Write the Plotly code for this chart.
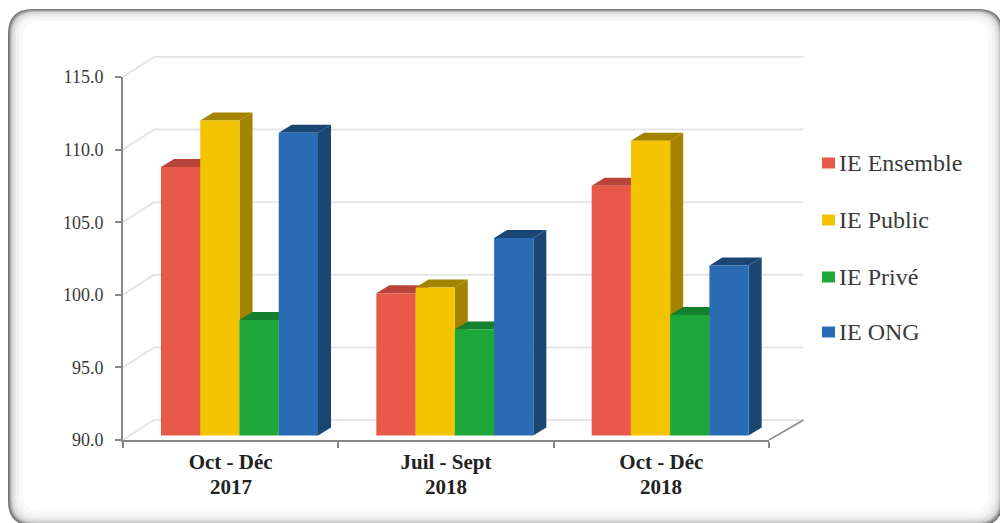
import plotly.graph_objects as go

# ---- data ----
periods = ["Oct - Déc", "Juil - Sept", "Oct - Déc"]
years = ["2017", "2018", "2018"]
series_names = ["IE Ensemble", "IE Public", "IE Privé", "IE ONG"]
ie_ensemble = [108.5, 99.8, 107.2]
ie_public = [111.7, 100.2, 110.3]
ie_prive = [97.95, 97.3, 98.3]
ie_ong = [110.85, 103.6, 101.7]
y_ticks = [90, 95, 100, 105, 110, 115]

# ---- styles ----
front_colors = ["#E8594A", "#F5C400", "#1FA83A", "#2A6CB4"]
dark_colors = ["#B8433A", "#A38300", "#138030", "#1A4674"]
series = [ie_ensemble, ie_public, ie_prive, ie_ong]

W, H = 1000, 523
AX_L, AX_R, AX_T, AX_B = 123, 769, 77, 440
PX_X = (AX_R - AX_L) / 3
PX_Y = (AX_B - AX_T) / 25
# the drawing subplot shares the same scale but leaves room for the back wall
DRAW_R, DRAW_T = 806, 50


def dx(px):
    return px / PX_X


def dy(px):
    return px / PX_Y


WALL_DX, WALL_DY = dx(31), dy(20)
WALL_END = 3 + dx(34.5)
BAR_PLANE_DX, BAR_PLANE_DY = dx(8.5), dy(4.5)
BAR_DEPTH_DX, BAR_DEPTH_DY = dx(13), dy(8)
BAR_W = dx(39.25)
CLUSTER_START = dx(29.5)

fig = go.Figure()
# keeps the visible axes alive
fig.add_trace(go.Scatter(x=[], y=[], xaxis="x", yaxis="y", showlegend=False, hoverinfo="skip"))


def poly(xs, ys, color):
    fig.add_trace(go.Scatter(x=xs, y=ys, xaxis="x2", yaxis="y2", mode="lines", fill="toself",
                             fillcolor=color, line=dict(width=0, color=color), hoverinfo="skip",
                             showlegend=False))


def line(xs, ys, color, width):
    fig.add_trace(go.Scatter(x=xs, y=ys, xaxis="x2", yaxis="y2", mode="lines",
                             line=dict(width=width, color=color), hoverinfo="skip", showlegend=False))


# back wall grid lines
for t in y_ticks:
    line([0, WALL_DX, WALL_END], [t, t + WALL_DY, t + WALL_DY], "#E6E6E6", 2)
# floor right edge
line([3, WALL_END], [90, 90 + WALL_DY], "#8C8C8C", 1.6)

# 3-D bars
for c in range(len(periods)):
    for s, vals in enumerate(series):
        v = vals[c]
        x0 = c + CLUSTER_START + BAR_PLANE_DX + s * BAR_W
        x1 = x0 + BAR_W
        y0 = 90 + BAR_PLANE_DY
        y1 = v + BAR_PLANE_DY
        poly([x1, x1 + BAR_DEPTH_DX, x1 + BAR_DEPTH_DX, x1, x1],
             [y0, y0 + BAR_DEPTH_DY, y1 + BAR_DEPTH_DY, y1, y0], dark_colors[s])
        poly([x0, x0 + BAR_DEPTH_DX, x1 + BAR_DEPTH_DX, x1, x0],
             [y1, y1 + BAR_DEPTH_DY, y1 + BAR_DEPTH_DY, y1, y1], dark_colors[s])
        poly([x0, x1, x1, x0, x0], [y0, y0, y1, y1, y0], front_colors[s])


# ---- card with soft inner shadow ----
def rrect(l, t, r, b, rad):
    X = lambda p: p / W
    Y = lambda p: 1 - p / H
    return (f"M {X(l+rad)} {Y(t)} L {X(r-rad)} {Y(t)} Q {X(r)} {Y(t)} {X(r)} {Y(t+rad)} "
            f"L {X(r)} {Y(b-rad)} Q {X(r)} {Y(b)} {X(r-rad)} {Y(b)} "
            f"L {X(l+rad)} {Y(b)} Q {X(l)} {Y(b)} {X(l)} {Y(b-rad)} "
            f"L {X(l)} {Y(t+rad)} Q {X(l)} {Y(t)} {X(l+rad)} {Y(t)} Z")


shapes = []
for inset, col in [(0, "#707070"), (1, "#8E8E8E"), (2, "#ABABAB"), (3, "#C6C6C6"), (4, "#DADADA"),
                   (6, "#E8E8E8"), (8, "#F2F2F2"), (11, "#F9F9F9"), (15, "#FFFFFF")]:
    shapes.append(dict(type="path", xref="paper", yref="paper", layer="below",
                       path=rrect(8 + inset, 9 + inset * 0.8, 1003 - inset, 526 - inset,
                                  max(25 - inset * 0.5, 4)),
                       fillcolor=col, line=dict(width=0)))

# ---- legend: swatches and labels ----
LEG_Y = [163, 220, 277, 332]
annotations = []
for name, col, yc in zip(series_names, front_colors, LEG_Y):
    shapes.append(dict(type="rect", xref="paper", yref="paper", layer="below",
                       x0=822 / W, x1=835 / W, y0=1 - (yc + 5.5) / H, y1=1 - (yc - 5.5) / H,
                       fillcolor=col, line=dict(width=0)))
    annotations.append(dict(xref="paper", yref="paper", x=838 / W, y=1 - yc / H, text=name,
                            showarrow=False, xanchor="left", yanchor="middle", xshift=-1,
                            font=dict(family="Liberation Serif", size=24, color="#3A3A3A")))
# year lines under the period tick labels
for i, yr in enumerate(years):
    annotations.append(dict(xref="x", yref="paper", x=i + 0.5, y=1 - 487 / H, text=f"<b>{yr}</b>",
                            showarrow=False, xanchor="center", yanchor="middle",
                            font=dict(family="Liberation Serif", size=21, color="#222222")))

AXC = "#868686"
fig.update_layout(
    width=W, height=H, margin=dict(l=0, r=0, t=0, b=0),
    paper_bgcolor="white", plot_bgcolor="rgba(0,0,0,0)",
    shapes=shapes, annotations=annotations, showlegend=False,
    xaxis=dict(domain=[AX_L / W, AX_R / W], range=[0, 3], tickvals=[0.5, 1.5, 2.5],
               ticktext=[f"<b>{p}</b>" for p in periods],
               ticks="", showgrid=False, zeroline=False, showline=True, linecolor=AXC, linewidth=2,
               tickangle=0, automargin=False, ticklabelstandoff=2,
               tickfont=dict(family="Liberation Serif", size=21, color="#222222"),
               minor=dict(tickvals=[0, 1, 2, 3], ticks="outside", ticklen=6, tickwidth=1.5,
                          tickcolor=AXC, showgrid=False)),
    yaxis=dict(domain=[1 - AX_B / H, 1 - AX_T / H], range=[90, 115], tickvals=y_ticks,
               tickformat=".1f", ticks="outside", ticklen=6, tickwidth=1.5, tickcolor=AXC,
               showgrid=False, zeroline=False, showline=True, linecolor=AXC, linewidth=2,
               automargin=False, ticklabelstandoff=8,
               tickfont=dict(family="Liberation Serif", size=18, color="#3A3A3A")),
    xaxis2=dict(domain=[AX_L / W, DRAW_R / W], range=[0, (DRAW_R - AX_L) / PX_X], anchor="y2",
                visible=False),
    yaxis2=dict(domain=[1 - AX_B / H, 1 - DRAW_T / H], range=[90, 90 + (AX_B - DRAW_T) / PX_Y],
                anchor="x2", visible=False),
)

fig.write_html("out.html", config=dict(displayModeBar=False),
               post_script="document.body.style.margin='0';document.body.style.overflow='hidden';")
